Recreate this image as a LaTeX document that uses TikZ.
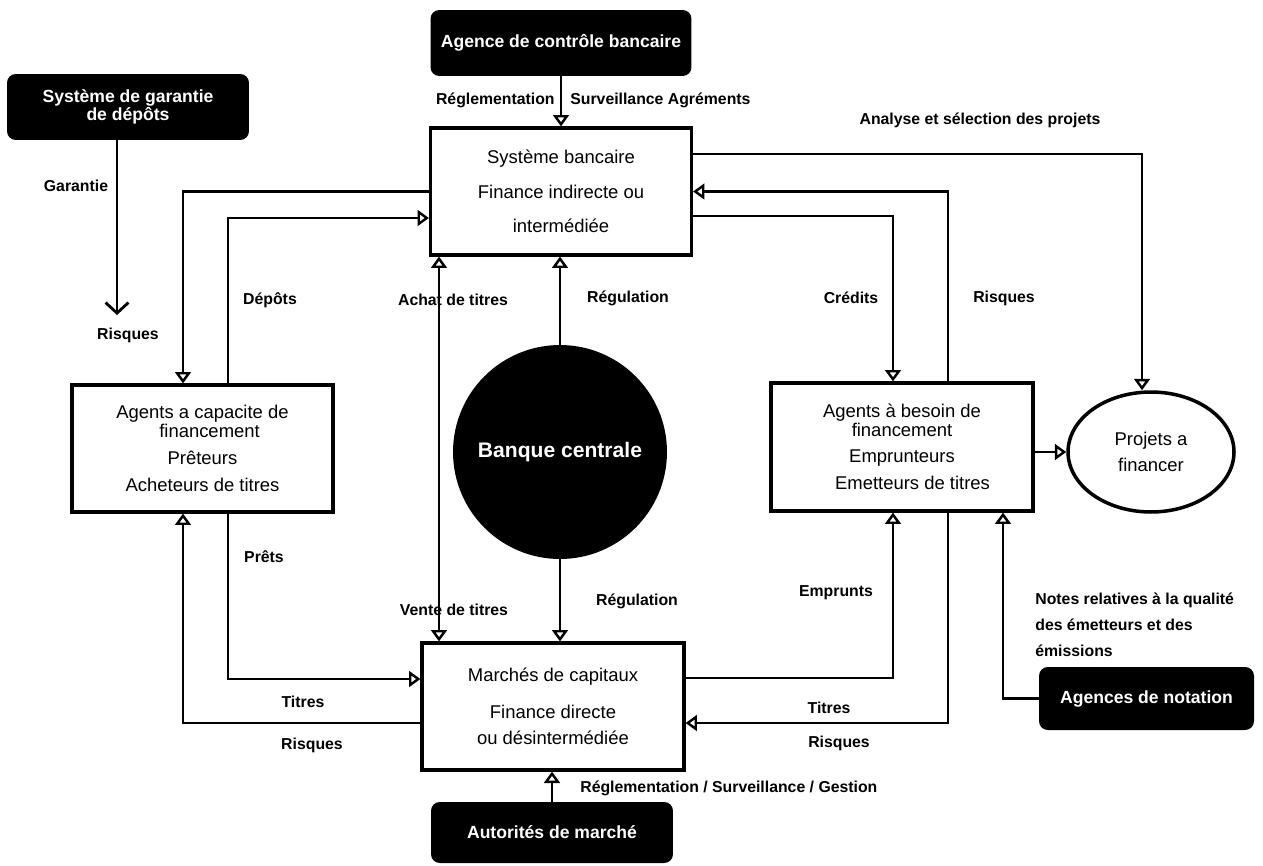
\documentclass[tikz,border=0pt]{standalone}
\usepackage{fontspec}
\setmainfont{Liberation Sans}
\usetikzlibrary{arrows.meta,calc,shapes.geometric}

\tikzset{
  whitebox/.style={draw, line width=1.8pt, align=center, inner sep=0pt,
    font=\fontsize{10.5}{10.5}\selectfont},
  darkbox/.style={fill=black, rounded corners=5pt, text=white, align=center,
    inner sep=0pt, font=\bfseries\fontsize{10}{10}\selectfont},
  lbl/.style={inner sep=0pt, font=\bfseries\fontsize{9}{10}\selectfont},
  tip/.style={Triangle[open,length=6.5pt,width=9pt,line width=1.4pt]},
  flow/.style={line width=1.2pt, -{Triangle[open,length=6.5pt,width=9pt,line width=1.4pt]}},
  dualflow/.style={line width=1.2pt,
    {Triangle[open,length=6.5pt,width=9pt,line width=1.4pt]}-{Triangle[open,length=6.5pt,width=9pt,line width=1.4pt]}},
  barb/.style={line width=1.3pt, -{Straight Barb[length=6pt,width=13pt,line width=1.6pt]}}
}

\begin{document}
\begin{tikzpicture}[x=0.02cm, y=-0.02cm]
\useasboundingbox (0,0) rectangle (1263,865);

% Institutions
\node[darkbox, minimum width=5.22cm, minimum height=1.32cm] (ACB) at (561,43) {Agence de contrôle bancaire};
\node[darkbox, minimum width=4.84cm, minimum height=1.32cm] (SGD) at (128,107) {Système de garantie\\de dépôts};
\node[darkbox, minimum width=4.84cm, minimum height=1.22cm] (ADM) at (552,832.5) {Autorités de marché};
\node[darkbox, minimum width=4.3cm, minimum height=1.26cm] (ADN) at (1146.5,698.5) {Agences de notation};
\node[circle, fill=black, text=white, minimum size=4.28cm, inner sep=0pt,
  font=\bfseries\fontsize{12}{12}\selectfont] (BC) at (560,452) {Banque centrale};

% Agents and markets
\node[whitebox, minimum width=5.22cm, minimum height=2.54cm] (SB) at (561,191.5)
  {Système bancaire\\[9pt]Finance indirecte ou\\[9pt]intermédiée};
\node[whitebox, minimum width=5.22cm, minimum height=2.54cm] (ACF) at (202.5,448.5)
  {Agents a capacite de\\\hspace*{8pt}financement\\[4.8pt]Prêteurs\\[4.8pt]Acheteurs de titres};
\node[whitebox, minimum width=5.24cm, minimum height=2.56cm] (ABF) at (902,447)
  {Agents à besoin de\\financement\\[4.8pt]Emprunteurs\\[4.8pt]\hspace*{12pt}Emetteurs de titres};
\node[whitebox, minimum width=5.24cm, minimum height=2.54cm] (MC) at (553,706.5)
  {Marchés de capitaux\\[10.5pt]Finance directe\\[4.2pt]ou désintermédiée};
\node[ellipse, draw, line width=2pt, minimum width=3.32cm, minimum height=2.4cm,
  inner sep=0pt, align=center, font=\fontsize{10.5}{14.7}\selectfont] (PAF) at (1151,452)
  {Projets a\\financer};

% Rails
\coordinate (railA) at (183,0);
\coordinate (railB) at (228,0);
\coordinate (railC) at (439,0);
\coordinate (railE) at (893,0);
\coordinate (railF) at (948,0);
\coordinate (railG) at (1003,0);
\coordinate (railH) at (1142,0);
\coordinate (garantieEnd) at (117,315);

% Connections
\draw[flow] (ACB.south) -- (SB.north);
\draw[barb] (garantieEnd |- SGD.south) -- (garantieEnd);
\draw[flow] (SB.west) -| (railA |- ACF.north);
\draw[flow] (railB |- ACF.north) |- ($(SB.west)+(0,26.5)$);
\draw[flow] ($(SB.east)+(0,-37.5)$) -| (railH |- PAF.north);
\draw[flow] (railF |- ABF.north) |- (SB.east);
\draw[flow] ($(SB.east)+(0,24.5)$) -| (railE |- ABF.north);
\draw[flow] (ABF.east |- PAF.west) -- (PAF.west);
\draw[dualflow] (railC |- SB.south) -- (railC |- MC.north);
\draw[flow] (BC.north) -- (BC.north |- SB.south);
\draw[flow] (BC.south) -- (BC.south |- MC.north);
\draw[flow] (ADM.north) -- (ADM.north |- MC.south);
\draw[flow] (railB |- ACF.south) |- ($(MC.west)+(0,-27.5)$);
\draw[flow] ($(MC.west)+(0,16.5)$) -| (railA |- ACF.south);
\draw[flow] ($(MC.east)+(0,-28.5)$) -| (railE |- ABF.south);
\draw[flow] (railF |- ABF.south) |- ($(MC.east)+(0,16.5)$);
\draw[flow] (ADN.west) -| (railG |- ABF.south);

% Labels
\node[lbl, anchor=east] (lReg) at (555,100) {Réglementation};
\node[lbl, anchor=west] (lSurv) at (570,100) {Surveillance Agréments};
\node[lbl] (lAnalyse) at (980,120) {Analyse et sélection des projets};
\node[lbl] (lGarantie) at (76,186) {Garantie};
\node[lbl] (lRisqG) at (128,335) {Risques};
\node[lbl] (lDepots) at (270,300) {Dépôts};
\node[lbl] (lAchat) at (453,300) {Achat de titres};
\node[lbl] (lRegulH) at (628,298) {Régulation};
\node[lbl] (lCredits) at (851,298) {Crédits};
\node[lbl] (lRisqR) at (1004,298) {Risques};
\node[lbl] (lPrets) at (264,557) {Prêts};
\node[lbl] (lVente) at (454,610) {Vente de titres};
\node[lbl] (lRegulB) at (637,601) {Régulation};
\node[lbl] (lEmprunts) at (836,593) {Emprunts};
\node[lbl] (lTitresL) at (303,702) {Titres};
\node[lbl] (lRisqL) at (312,745) {Risques};
\node[lbl] (lTitresR) at (829,708) {Titres};
\node[lbl] (lRisqB) at (839,743) {Risques};
\node[lbl, anchor=west] (lGestion) at (580,788) {Réglementation / Surveillance / Gestion};
\node[lbl, anchor=north west, align=left, font=\bfseries\fontsize{9}{14.7}\selectfont] (lNotes) at (1035,593)
  {Notes relatives à la qualité\\ des émetteurs et des\\émissions};

\end{tikzpicture}
\end{document}
